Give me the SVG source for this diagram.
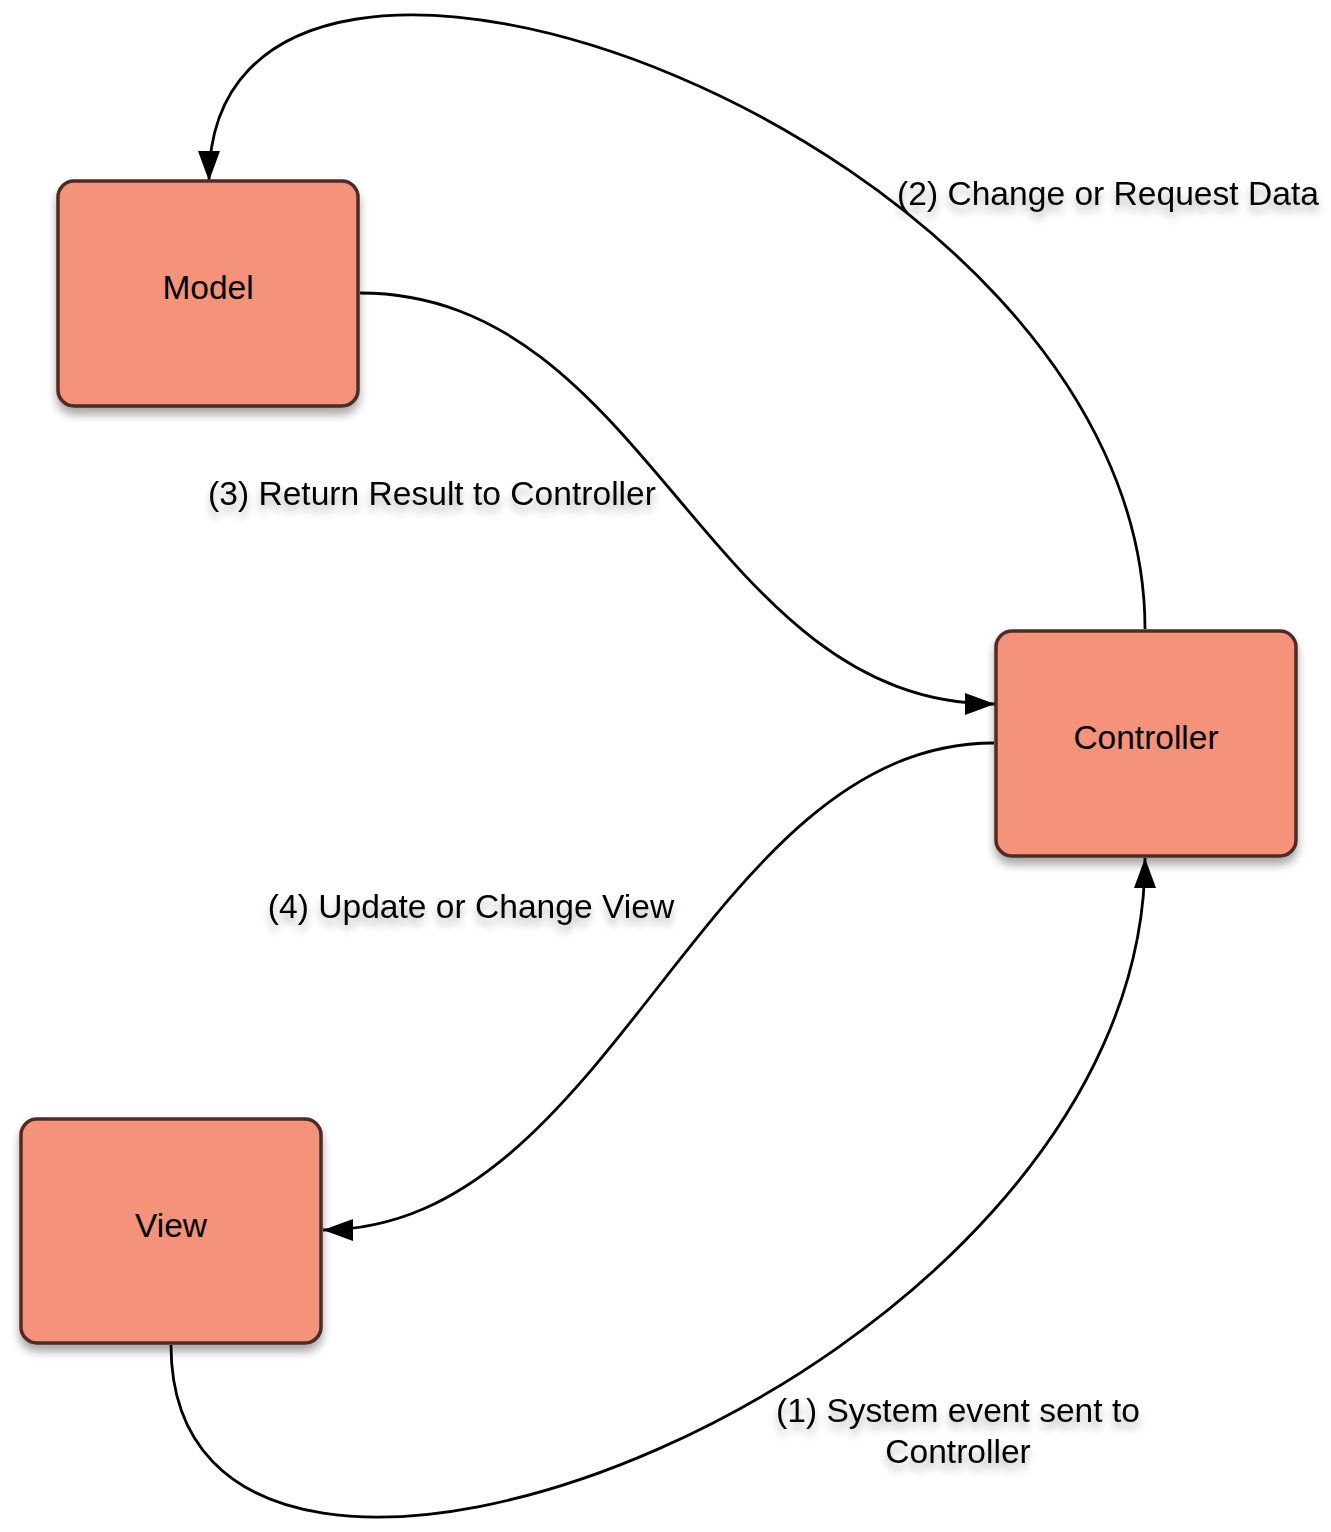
<svg xmlns="http://www.w3.org/2000/svg" width="1331" height="1532" viewBox="0 0 1331 1532">
<defs>
<filter id="boxShadow" x="-20%" y="-20%" width="140%" height="150%">
<feGaussianBlur in="SourceAlpha" stdDeviation="5"/>
<feOffset dx="0" dy="7" result="b"/>
<feComponentTransfer><feFuncA type="linear" slope="0.35"/></feComponentTransfer>
<feMerge><feMergeNode/><feMergeNode in="SourceGraphic"/></feMerge>
</filter>
<filter id="textShadow" x="-10%" y="-40%" width="120%" height="200%">
<feGaussianBlur in="SourceAlpha" stdDeviation="4"/>
<feOffset dx="0" dy="7" result="b"/>
<feComponentTransfer><feFuncA type="linear" slope="0.3"/></feComponentTransfer>
<feMerge><feMergeNode/><feMergeNode in="SourceGraphic"/></feMerge>
</filter>
<marker id="arrow" viewBox="0 0 30 22" refX="30" refY="11" markerWidth="30" markerHeight="22" markerUnits="userSpaceOnUse" orient="auto">
<path d="M0,0 L30,11 L0,22 Z" fill="#000"/>
</marker>
</defs>
<style>
.box{fill:#f4927a;stroke:#4f2b25;stroke-width:3.5;filter:url(#boxShadow)}
.nodeText{font-family:"Liberation Sans",Arial,sans-serif;font-size:33.5px;fill:#000;text-anchor:middle}
.label{font-family:"Liberation Sans",Arial,sans-serif;font-size:33.6px;fill:#000;text-anchor:middle;filter:url(#textShadow)}
.conn{fill:none;stroke:#000;stroke-width:2.8;marker-end:url(#arrow)}
</style>
<rect width="1331" height="1532" fill="#fff"/>
<g id="connectors">
<path class="conn" d="M171,1345 C171,1750 1145,1380 1145,858"/>
<path class="conn" d="M1145,629 C1145,139 209,-205 209,181"/>
<path class="conn" d="M360,293 C650,293 706,704 995,704"/>
<path class="conn" d="M994,743 C704,743 613,1230 323,1230"/>
</g>
<g id="labels">
<text class="label" x="1108" y="205">(2) Change or Request Data</text>
<text class="label" x="432" y="505">(3) Return Result to Controller</text>
<text class="label" x="471" y="918">(4) Update or Change View</text>
<text class="label" x="958" y="1422">(1) System event sent to</text>
<text class="label" x="958" y="1463">Controller</text>
</g>
<g id="model">
<rect class="box" x="58" y="181" width="300" height="225" rx="16"/>
<text class="nodeText" x="208" y="299">Model</text>
</g>
<g id="controller">
<rect class="box" x="996" y="631" width="300" height="225" rx="16"/>
<text class="nodeText" x="1146" y="749">Controller</text>
</g>
<g id="view">
<rect class="box" x="21" y="1119" width="300" height="224" rx="16"/>
<text class="nodeText" x="171" y="1237">View</text>
</g>
</svg>
